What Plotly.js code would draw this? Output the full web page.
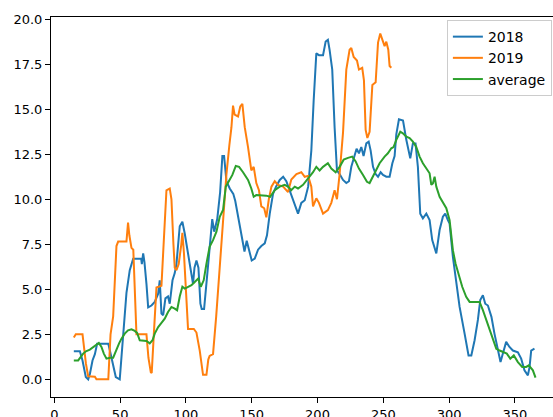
<!DOCTYPE html>
<html>
<head>
<meta charset="utf-8">
<script src="https://cdn.plot.ly/plotly-3.0.1.min.js"></script>
<style>
html,body{margin:0;padding:0;overflow:hidden;background:#fff;}
#chart{width:562px;height:417px;}
</style>
</head>
<body>
<div id="chart"></div>
<script>
const seriesNames = ["2018", "2019", "average"];

const days2018 = [14.8,19.4,21.4,23.9,25.7,27,29,30.8,32.5,41,42.2,44.7,46.7,49.7,52.3,54.8,57.3,59.9,66,66.5,67.5,68.5,70,71.3,73.8,76.3,78.9,80.1,81.4,82.7,84.4,86.4,87.7,89.8,91.5,92.8,95.3,97.3,99.1,101.6,104.2,105.4,106.5,108,109.5,111,112,113.8,116.8,118.5,120,121.5,123.8,126,127.7,129,130.8,133.3,136,137.5,139.6,141.5,143.5,144.5,146.2,147.5,150,152.3,154.8,157.3,159.9,161.6,163.7,166.2,168.5,171.3,173.9,176.3,178.9,181.4,185.2,187.7,190.3,192.9,195.3,197.1,199.1,201.1,204.2,206.2,207.9,209.2,211.2,213,214.8,216.8,219.4,221.9,223.9,225.7,227.5,229.7,231.5,233.3,235,237.1,238.9,240.4,242.2,244.2,246,248,249.8,252.3,254.8,256.9,258.6,259.9,261.9,265,267.5,270.5,272.5,274.5,276.3,278.1,280.1,282.7,285.2,287.2,290.3,292.8,295.3,297.1,299.1,300.4,302.9,305,308,311.8,312.6,314.8,316.9,319.4,321.9,323.7,325.7,327.5,329.5,332.2,334.5,337.1,339.1,340.9,343.4,345.9,348.5,352.3,354.8,357.3,359.9,361.2,362.4,364.9];
const vals2018 = [1.56,1.56,1.05,0.13,0,0.3,1.05,1.4,1.97,1.97,1.6,0.87,0.13,0,2.35,4.8,6.06,6.7,6.7,6.4,7.0,6.5,5.3,4.0,4.1,4.3,4.76,5.5,3.65,3.56,4.5,4.6,4.2,5.5,5.9,6.4,8.5,8.75,8.1,7.0,5.9,5.3,6.2,6.6,6.2,4.2,3.9,3.9,6.3,7.9,8.9,8.2,8.9,10.4,12.4,12.4,11.0,10.6,10.3,9.9,9.0,8.2,7.4,7.1,7.7,7.3,6.6,6.7,7.2,7.4,7.55,8.0,9.2,10.3,10.7,11.07,11.25,11.0,10.5,9.95,9.2,9.8,9.95,10.7,12.7,15.5,18.1,18.0,18.0,18.76,18.85,18.3,17.2,14.0,11.6,11.4,11.07,10.9,11.0,11.8,12.2,12.8,12.55,12.9,12.4,13.1,13.2,12.7,11.8,11.4,11.25,11.5,11.35,11.25,11.25,12.0,12.4,13.6,14.44,14.37,13.3,12.27,13.1,13.1,11.8,9.2,8.94,9.2,8.84,7.73,6.99,8.29,9.03,9.2,8.84,8.65,6.8,5.6,4.02,2.54,2.17,1.33,1.33,2.17,3.3,4.4,4.67,4.2,4.1,3.47,2.54,1.6,0.96,1.43,2.08,1.8,1.6,1.5,1.15,0.5,0.22,0.69,1.6,1.7];

const days2019 = [14.8,16.3,21.4,24,25.7,30.8,32,41,42.7,44.7,47.2,48.5,54.8,56,57,58.6,60,62.4,70,71.5,73.3,74,75.6,77.6,81.4,83,85.2,87.7,89,90.5,91.5,92.8,94.5,96.5,97.3,98.5,100.4,101.6,106,108,110.5,112,113,115.6,117,118,120.6,123,125.7,128,130.8,133,134.6,135.8,137,139.6,141.3,142.9,144.7,147.2,149.7,151.5,153.5,155.5,157.3,159.5,161.1,163,165,167.5,170,173.9,177.6,180.1,184,187.7,190.3,192.9,195.3,196.6,199.1,201.1,204.2,207.9,210.5,213,214.8,216.8,219.4,221.9,224.4,225.7,227.5,230,231.5,234,235.3,236.6,237.9,239.6,241.7,244.2,246,247.7,249.8,251,252.3,253.8,254.8,256.1];
const vals2019 = [2.32,2.5,2.5,0.87,0.17,0.15,0,0,2.5,3.5,7.4,7.65,7.65,8.7,8.0,7.3,7.2,2.5,2.5,1.2,0.4,0.35,2.5,5.1,5.2,7.5,10.5,10.6,10.0,7.5,6.2,6.06,6.4,7.5,8.14,7.0,4.4,2.8,2.8,2.6,1.6,0.6,0.25,0.25,1.1,1.3,1.4,3.5,6.2,8.5,11.4,13.0,14.0,15.2,14.7,14.6,15.15,15.3,14.0,12.9,11.6,11.8,10.9,10.5,9.6,9.5,9.0,10.0,10.7,11.0,10.8,10.7,10.4,11.1,11.4,11.5,11.25,11.3,10.7,9.6,10.05,9.8,9.2,9.4,9.8,10.5,10.0,11.4,13.7,17.2,18.3,18.4,17.9,17.7,17.2,17.3,16.6,13.85,13.4,13.75,16.35,16.5,18.7,19.2,18.75,18.5,18.75,18.3,17.4,17.3];

const daysAvg = [14.8,18.1,21.9,24,27,29.5,32,33.8,35.8,37.6,39.6,42.2,44.7,47.2,49.2,51,53.5,56,58.6,61.1,62.9,64.9,67.5,70,72.5,74.6,76.3,78.9,81.4,83.9,86.4,89,91.5,93.3,95.3,97.3,99.1,101.6,104.2,106.7,109.3,111.3,113.5,115.6,118,120.6,123.2,125.7,128.2,130.3,132.8,135.3,137.9,140.4,143.4,147.2,149.7,151.5,153.5,157.3,161.1,164,167.5,171.3,175,177.6,180,182.7,185.2,189,192.9,196.6,199.1,201.6,204.2,207.9,210.5,213.8,216.8,219.9,223.2,226.4,229,231.5,234.6,237.6,239.6,242.2,244.7,247.2,251,253.5,256.1,257.8,259.9,262.9,264.9,267.5,270,272.5,275,277.6,280.1,282.7,285.2,286.5,287.7,289,290.3,292.8,295.3,297.9,300.4,302.9,304.9,307.5,310,313,315.6,319.4,323.2,325.7,328.3,330.8,333.3,335.9,338.4,340.9,343.9,346.5,349.2,352.3,355.6,358.6,360.6,363.7,365.7];
const valsAvg = [1.05,1.05,1.43,1.56,1.65,1.8,1.95,2.02,1.8,1.43,1.15,1.2,1.2,1.7,2.0,2.26,2.54,2.72,2.78,2.69,2.58,2.17,2.17,2.13,2.0,2.17,2.54,2.9,3.13,3.37,3.74,4.02,3.93,3.84,4.6,5.14,5.04,5.14,5.23,5.41,5.6,5.14,5.5,6.43,7.36,7.73,8.2,9.03,9.4,10.7,11.0,11.35,11.85,11.8,11.5,11.07,10.6,10.14,10.23,10.23,10.2,10.14,10.5,10.7,10.8,10.7,10.5,10.7,10.6,10.8,11.16,11.5,11.8,11.6,11.8,12.0,11.7,11.5,11.8,12.2,12.3,12.37,12.1,11.7,11.35,10.97,10.9,11.25,11.6,12.0,12.37,12.55,12.83,12.9,13.3,13.75,13.66,13.48,13.4,13.2,12.92,12.37,12.0,11.7,11.44,10.8,10.88,11.25,10.7,10.14,9.86,9.5,8.84,7.17,6.43,5.7,5.14,4.58,4.3,4.3,4.3,3.84,3.28,2.82,2.17,1.7,1.6,1.52,1.43,1.15,1.33,0.96,0.69,0.69,0.78,0.5,0.1];

const xTicks = [0, 50, 100, 150, 200, 250, 300, 350];
const yTicks = [0, 2.5, 5, 7.5, 10, 12.5, 15, 17.5, 20];
const colors = ["#1f77b4", "#ff7f0e", "#2ca02c"];

const xs = [days2018, days2019, daysAvg];
const ys = [vals2018, vals2019, valsAvg];

const traces = seriesNames.map((n, i) => ({
  x: xs[i], y: ys[i], name: n, type: "scatter", mode: "lines",
  line: {color: colors[i], width: 2}
}));

const font = {family: "DejaVu Sans, sans-serif", size: 13, color: "#000"};

const layout = {
  width: 562, height: 417,
  margin: {l: 51, r: 3, t: 17, b: 20, pad: 0},
  paper_bgcolor: "#fff", plot_bgcolor: "#fff",
  font: font,
  showlegend: true,
  xaxis: {
    range: [-2.55, 383.55], tickvals: xTicks, ticktext: xTicks.map(String),
    showgrid: false, zeroline: false, showline: true, mirror: true,
    linecolor: "#000", linewidth: 1, ticks: "outside", ticklen: 5, tickwidth: 1, tickcolor: "#000",
    tickfont: font
  },
  yaxis: {
    range: [-0.98, 20.12], tickvals: yTicks, ticktext: yTicks.map(v => v.toFixed(1)),
    showgrid: false, zeroline: false, showline: true, mirror: true,
    linecolor: "#000", linewidth: 1, ticks: "outside", ticklen: 5, tickwidth: 1, tickcolor: "#000",
    tickfont: font
  },
  legend: {
    x: 0.986, y: 0.992, xanchor: "right", yanchor: "top",
    bgcolor: "rgba(255,255,255,0.8)", bordercolor: "#cccccc", borderwidth: 1,
    font: {family: "DejaVu Sans, sans-serif", size: 14, color: "#000"}, tracegroupgap: 0
  }
};

Plotly.newPlot("chart", traces, layout, {displayModeBar: false, staticPlot: true});
</script>
</body>
</html>
